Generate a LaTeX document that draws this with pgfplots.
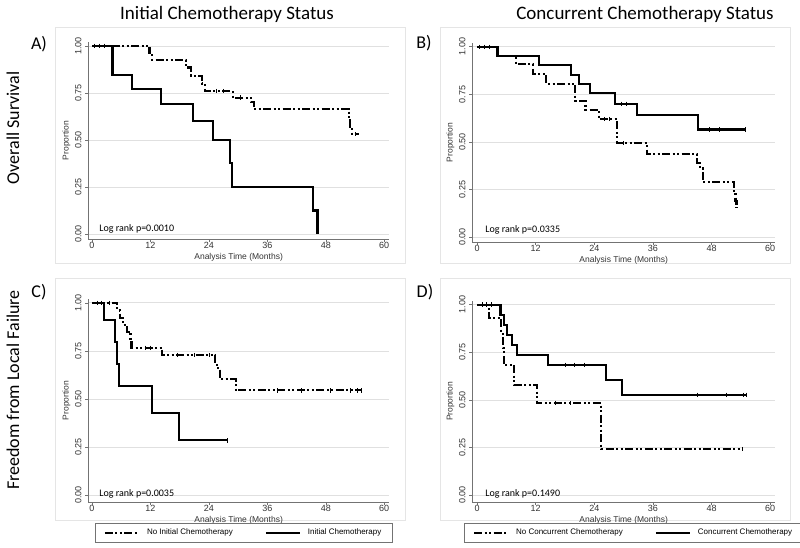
\documentclass[border=0pt]{standalone}
\usepackage{fontspec}
\setmainfont{Carlito}
\newfontfamily\arialfont{Liberation Sans}
\usepackage{pgfplots}
\pgfplotsset{compat=1.18}

\pgfplotsset{
  kmaxis/.style={
    scale only axis, clip=false,
    axis x line*=bottom, axis y line*=left,
    axis line style={black!55, line width=0.5pt},
    tick style={black!55, line width=0.5pt},
    tick align=outside, major tick length=3pt,
    xtick={0,12,24,36,48,60}, xticklabels={0,12,24,36,48,60},
    ytick={0,0.25,0.5,0.75,1}, yticklabels={0.00,0.25,0.50,0.75,1.00},
    ymajorgrids, major grid style={black!12, line width=0.6pt},
    yticklabel style={rotate=90, anchor=south},
    xticklabel style={yshift=3pt},
    tick label style={font=\arialfont\fontsize{9}{10}\selectfont, text=black!80},
    label style={font=\arialfont\fontsize{8.5}{10}\selectfont, text=black!80},
    xlabel={Analysis Time (Months)}, ylabel={Proportion},
    xlabel style={at={(axis description cs:0.5,0)}, anchor=center, yshift=-18pt},
    ylabel style={yshift=-2pt},
    /pgf/number format/assume math mode=true,
    legend image code/.code={\draw[#1] plot coordinates {(0pt,0pt) (17pt,0pt) (34pt,0pt)};},
  },
  kmlegend/.style={legend style={at={(0.5,0)}, anchor=north, yshift=-21pt, xshift=#1,
    draw=black!55, line width=0.5pt, legend columns=2,
    font=\arialfont\fontsize{8}{9}\selectfont, inner xsep=9pt, inner ysep=4pt,
    /tikz/every odd column/.append style={column sep=5pt},
    /tikz/every even column/.append style={column sep=30pt}}},
  dashcurve/.style={const plot, no marks, black, line width=2.1pt,
    dash pattern=on 8pt off 2.5pt on 2pt off 2.5pt on 2pt off 2.5pt},
  solidcurve/.style={const plot, no marks, black, line width=2.1pt},
  censor/.style={only marks, mark=|, mark size=2.2pt, black, mark options={line width=0.7pt}, forget plot},
}

\begin{document}
\begin{tikzpicture}
\useasboundingbox (0,0) rectangle (800pt,548pt);
% panel frames
\draw[black!10, line width=0.6pt] (55pt,285pt) rectangle (405pt,521pt);
\draw[black!10, line width=0.6pt] (440pt,285pt) rectangle (790pt,521pt);
\draw[black!10, line width=0.6pt] (55pt,28pt) rectangle (405pt,270pt);
\draw[black!10, line width=0.6pt] (440pt,28pt) rectangle (790pt,270pt);

% titles
\node[font=\fontsize{19}{21}\selectfont] at (227pt,534pt) {Initial Chemotherapy Status};
\node[font=\fontsize{19}{21}\selectfont] at (645pt,534pt) {Concurrent Chemotherapy Status};
\node[rotate=90, font=\fontsize{18}{20}\selectfont] at (13pt,420pt) {Overall Survival};
\node[rotate=90, font=\fontsize{18}{20}\selectfont] at (13pt,158pt) {Freedom from Local Failure};
\node[font=\fontsize{18}{20}\selectfont] at (39pt,504pt) {A)};
\node[font=\fontsize{18}{20}\selectfont] at (424pt,505pt) {B)};
\node[font=\fontsize{18}{20}\selectfont] at (39pt,256pt) {C)};
\node[font=\fontsize{18}{20}\selectfont] at (425pt,256pt) {D)};

% A) overall survival, initial chemotherapy
\begin{axis}[kmaxis, at={(92pt,314pt)}, anchor=origin,
  width=301pt, height=197pt, xmin=-0.8, xmax=61, ymin=-0.027, ymax=1.02]
\addplot[dashcurve] coordinates {(0,1) (11.8,0.96) (12.4,0.923) (19.3,0.885) (20.3,0.84)
  (22.5,0.80) (23.2,0.76) (28.9,0.725) (32.6,0.70) (33.2,0.666) (52.7,0.62) (53.0,0.57)
  (53.3,0.53) (54.9,0.53)};
\addplot[solidcurve] coordinates {(0,1) (4.2,0.846) (8.2,0.769) (14.2,0.692) (20.8,0.60)
  (24.9,0.50) (28.3,0.375) (28.7,0.25) (45.4,0.125) (46.3,0)};
\addplot[censor] coordinates {(0.5,1) (1.5,1) (2.5,1) (25.5,0.76) (27,0.76) (30.5,0.725) (54,0.53)};
\node[anchor=base west, font=\fontsize{10}{12}\selectfont] at (axis cs:0.8,0.012) {Log rank p=0.0010};
\end{axis}

% B) overall survival, concurrent chemotherapy
\begin{axis}[kmaxis, at={(477pt,311pt)}, anchor=origin,
  width=303pt, height=199pt, xmin=-1, xmax=61, ymin=-0.026, ymax=1.02]
\addplot[dashcurve] coordinates {(0,1) (4.2,0.951) (8.0,0.907) (11.5,0.857) (14.1,0.806)
  (20.1,0.717) (22.2,0.669) (24.9,0.62) (28.6,0.493) (34.8,0.435) (45.0,0.39) (45.6,0.36)
  (46.2,0.29) (52.6,0.24) (52.9,0.19) (53.1,0.15)};
\addplot[solidcurve] coordinates {(0,1) (4.2,0.951) (12.6,0.902) (19.3,0.853) (20.8,0.804)
  (23.2,0.755) (28.3,0.70) (32.7,0.639) (45.3,0.565) (54.9,0.565)};
\addplot[censor] coordinates {(0.5,1) (1.5,1) (2.5,1) (29.5,0.70) (30.5,0.70) (47.5,0.565) (49.5,0.565) (54.9,0.565)};
\addplot[censor] coordinates {(26,0.62) (27,0.62) (30,0.493)};
\node[anchor=base west, font=\fontsize{10}{12}\selectfont] at (axis cs:1.0,0.026) {Log rank p=0.0335};
\end{axis}

% C) local failure, initial chemotherapy
\begin{axis}[kmaxis, kmlegend=5pt, at={(92pt,53pt)}, anchor=origin,
  width=301pt, height=203pt, xmin=-0.8, xmax=61, ymin=-0.036, ymax=1.02]
\addplot[dashcurve] coordinates {(0,1) (5.2,0.96) (5.8,0.92) (6.4,0.884) (7.2,0.85)
  (7.9,0.80) (8.1,0.766) (14.4,0.728) (25.3,0.69) (25.6,0.66) (26.3,0.603) (29.5,0.544)
  (55.4,0.544)};
\addlegendentry{No Initial Chemotherapy}
\addplot[solidcurve] coordinates {(0,1) (2.5,0.909) (4.8,0.795) (5.1,0.682) (5.6,0.568)
  (12.4,0.426) (17.8,0.284) (27.8,0.284)};
\addlegendentry{Initial Chemotherapy}
\addplot[censor] coordinates {(1,1) (2,1) (3.5,1) (11,0.766) (12,0.766) (17.5,0.728) (21,0.728)
  (24,0.728) (38,0.544) (43,0.544) (49,0.544) (53,0.544) (54.5,0.544) (55.4,0.544)};
\addplot[censor] coordinates {(27.8,0.284)};
\node[anchor=base west, font=\fontsize{10}{12}\selectfont] at (axis cs:0.8,-0.01) {Log rank p=0.0035};
\end{axis}

% D) local failure, concurrent chemotherapy
\begin{axis}[kmaxis, kmlegend=10pt, at={(477pt,53pt)}, anchor=origin,
  width=303pt, height=201pt, xmin=-1, xmax=61, ymin=-0.036, ymax=1.02]
\addplot[dashcurve] coordinates {(0,1) (2.4,0.929) (5.0,0.86) (5.3,0.77) (5.5,0.684)
  (7.6,0.579) (12.3,0.482) (25.4,0.241) (54.2,0.241)};
\addlegendentry{No Concurrent Chemotherapy}
\addplot[solidcurve] coordinates {(0,1) (4.8,0.947) (5.5,0.895) (6.1,0.842) (7.2,0.789)
  (8.2,0.737) (14.5,0.684) (26.4,0.605) (29.7,0.526) (55.2,0.526)};
\addlegendentry{Concurrent Chemotherapy}
\addplot[censor] coordinates {(1,1) (2,1) (3,1) (18,0.684) (20,0.684) (22,0.684) (45,0.526)
  (51,0.526) (54.5,0.526) (55.2,0.526)};
\addplot[censor] coordinates {(16,0.482) (19,0.482) (54.2,0.241)};
\node[anchor=base west, font=\fontsize{10}{12}\selectfont] at (axis cs:1.0,-0.01) {Log rank p=0.1490};
\end{axis}
\end{tikzpicture}
\end{document}
